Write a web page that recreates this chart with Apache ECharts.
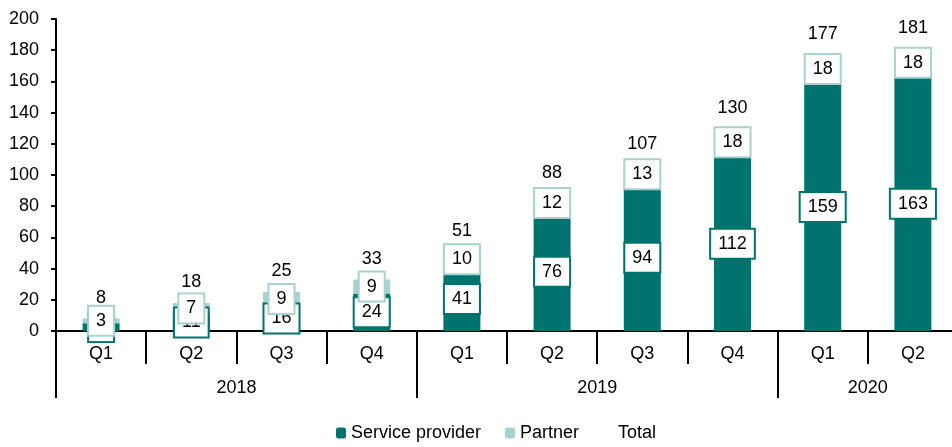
<!DOCTYPE html>
<html>
<head>
  <meta charset="utf-8">
  <title>ECharts</title>
  <script src="https://cdn.jsdelivr.net/npm/echarts@6/dist/echarts.min.js"></script>
  <style>
    body { margin: 0; padding: 0; background: #fff; }
    #main { width: 952px; height: 447px; }
  </style>
</head>
<body>
  <div id="main"></div>
  <script type="text/javascript">
    // data
    const quarters = ['Q1', 'Q2', 'Q3', 'Q4', 'Q1', 'Q2', 'Q3', 'Q4', 'Q1', 'Q2'];
    const years = ['2018', '2019', '2020'];
    const yearSpans = [4, 4, 2];
    const serviceProvider = [5, 11, 16, 24, 41, 76, 94, 112, 159, 163];
    const partner = [3, 7, 9, 9, 10, 12, 13, 18, 18, 18];
    const total = [8, 18, 25, 33, 51, 88, 107, 130, 177, 181];

    const font = "'Liberation Sans', Arial, sans-serif";
    const dark = '#00736f';
    const light = '#a8d2d0';

    // year group boundaries and centres on a 0..n value axis
    const bounds = [0];
    const mids = [];
    yearSpans.forEach(function (s) {
      const start = bounds[bounds.length - 1];
      mids.push(start + s / 2);
      bounds.push(start + s);
    });

    function boxLabel(color) {
      return {
        show: true,
        position: 'inside',
        color: '#000',
        fontFamily: font,
        fontSize: 18,
        lineHeight: 20,
        backgroundColor: '#fff',
        borderColor: color,
        borderWidth: 2,
        padding: [4, 7]
      };
    }

    const chart = echarts.init(document.getElementById('main'));
    chart.setOption({
      animation: false,
      textStyle: { fontFamily: font },
      grid: { left: 56, top: 19, width: 902, height: 312, outerBoundsMode: 'none' },
      legend: {
        top: 419,
        left: 331,
        itemWidth: 10,
        itemHeight: 11,
        itemGap: 24,
        textStyle: { fontSize: 18, color: '#000', fontFamily: font },
        data: ['Service provider', 'Partner', 'Total']
      },
      xAxis: [{
        type: 'category',
        data: quarters,
        axisLine: { lineStyle: { color: '#000', width: 2 } },
        axisTick: { show: true, interval: 0, length: 33, lineStyle: { color: '#000', width: 2 } },
        axisLabel: { interval: 0, margin: 14, color: '#000', fontSize: 18, fontFamily: font }
      }, {
        type: 'value',
        min: 0,
        max: bounds[bounds.length - 1],
        position: 'bottom',
        axisLine: { show: false },
        splitLine: { show: false },
        axisTick: { show: true, customValues: bounds, length: 67, lineStyle: { color: '#000', width: 2 } },
        axisLabel: {
          customValues: mids,
          margin: 48,
          color: '#000',
          fontSize: 18,
          fontFamily: font,
          formatter: function (v) { return years[mids.indexOf(v)] || ''; }
        }
      }],
      yAxis: {
        type: 'value',
        min: 0,
        max: 200,
        interval: 20,
        axisLine: { show: true, lineStyle: { color: '#000', width: 2 } },
        axisTick: { show: true, length: 5, lineStyle: { color: '#000', width: 2 } },
        splitLine: { show: false },
        axisLabel: { margin: 17, color: '#000', fontSize: 18, fontFamily: font }
      },
      series: [{
        name: 'Service provider',
        type: 'bar',
        stack: 'a',
        barWidth: 37,
        data: serviceProvider,
        itemStyle: { color: dark },
        label: boxLabel(dark)
      }, {
        name: 'Partner',
        type: 'bar',
        stack: 'a',
        barWidth: 37,
        data: partner,
        itemStyle: { color: light },
        label: boxLabel(light)
      }, {
        name: 'Total',
        type: 'scatter',
        data: total,
        symbolSize: 1,
        itemStyle: { color: 'transparent' },
        label: {
          show: true,
          position: 'top',
          distance: 11,
          opacity: 1,
          color: '#000',
          fontSize: 18,
          fontFamily: font
        }
      }]
    });
  </script>
</body>
</html>
